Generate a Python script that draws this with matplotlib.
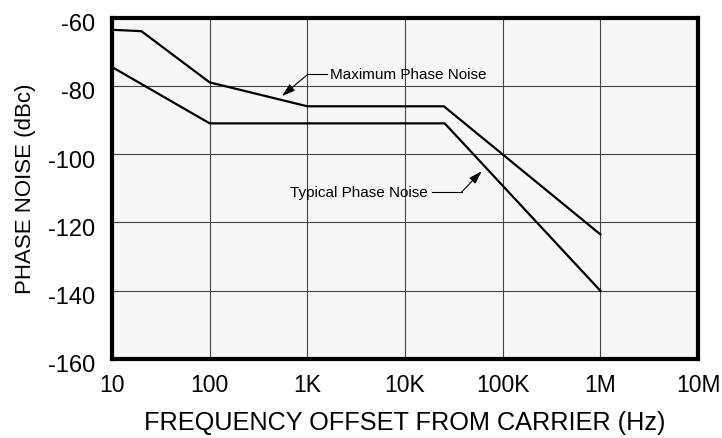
import matplotlib
matplotlib.use("Agg")
import matplotlib.pyplot as plt
from matplotlib.transforms import ScaledTranslation

# Data
max_freq = [10, 20, 100, 1000, 25000, 1000000]
max_noise = [-63.6, -64, -79, -86, -86, -123.5]
typ_freq = [10, 100, 25500, 1000000]
typ_noise = [-74.5, -91, -91, -140]

x_ticks = [10, 100, 1e3, 1e4, 1e5, 1e6, 1e7]
x_labels = ["10", "100", "1K", "10K", "100K", "1M", "10M"]
y_ticks = [-160, -140, -120, -100, -80, -60]

plt.rcParams['font.family'] = ['Liberation Sans', 'DejaVu Sans']
plt.rcParams['axes.unicode_minus'] = False

fig = plt.figure(figsize=(7.22, 4.39), dpi=100)
ax = fig.add_axes([112/722, 1-360/439, (698-112)/722, (360-18.5)/439])
ax.set_facecolor("#f7f7f7")

ax.plot(max_freq, max_noise, color="black", lw=1.6, solid_joinstyle="miter")
ax.plot(typ_freq, typ_noise, color="black", lw=1.6, solid_joinstyle="miter")

ax.set_xscale("log")
ax.set_xlim(10, 1e7)
ax.set_ylim(-160, -60)
ax.set_xticks(x_ticks)
ax.set_xticklabels(x_labels)
ax.minorticks_off()
ax.set_yticks(y_ticks)
ax.grid(True, color="#444444", lw=0.8)
ax.set_axisbelow(True)
ax.tick_params(axis="x", length=0, labelsize=16.5, pad=10)
ax.tick_params(axis="y", length=0, labelsize=17, pad=12)
off = ScaledTranslation(0, -4/100, fig.dpi_scale_trans)
for lab in ax.get_yticklabels():
    lab.set_transform(lab.get_transform() + off)
for s in ax.spines.values():
    s.set_linewidth(3)
    s.set_color("black")

ax.set_xlabel("FREQUENCY OFFSET FROM CARRIER (Hz)", fontsize=18.2, labelpad=10.5)
ax.set_ylabel("PHASE NOISE (dBc)", fontsize=16, labelpad=9)

# annotations
ax.text(1700, -76.6, "Maximum Phase Noise", fontsize=11, va="center", ha="left")
ax.plot([1014, 1585], [-76.6, -76.6], color="black", lw=0.8)
ax.annotate("", xy=(550, -83.0), xytext=(1014, -76.6),
            arrowprops=dict(arrowstyle="-|>,head_length=0.8,head_width=0.25", color="black", lw=0.8,
                            shrinkA=0, shrinkB=0))

ax.text(17100, -111.1, "Typical Phase Noise", fontsize=11, va="center", ha="right")
ax.plot([18800, 38000], [-111.1, -111.1], color="black", lw=0.8)
ax.annotate("", xy=(61000, -105.0), xytext=(38000, -111.1),
            arrowprops=dict(arrowstyle="-|>,head_length=0.8,head_width=0.25", color="black", lw=0.8,
                            shrinkA=0, shrinkB=0))

fig.savefig("out.png", dpi=100)
